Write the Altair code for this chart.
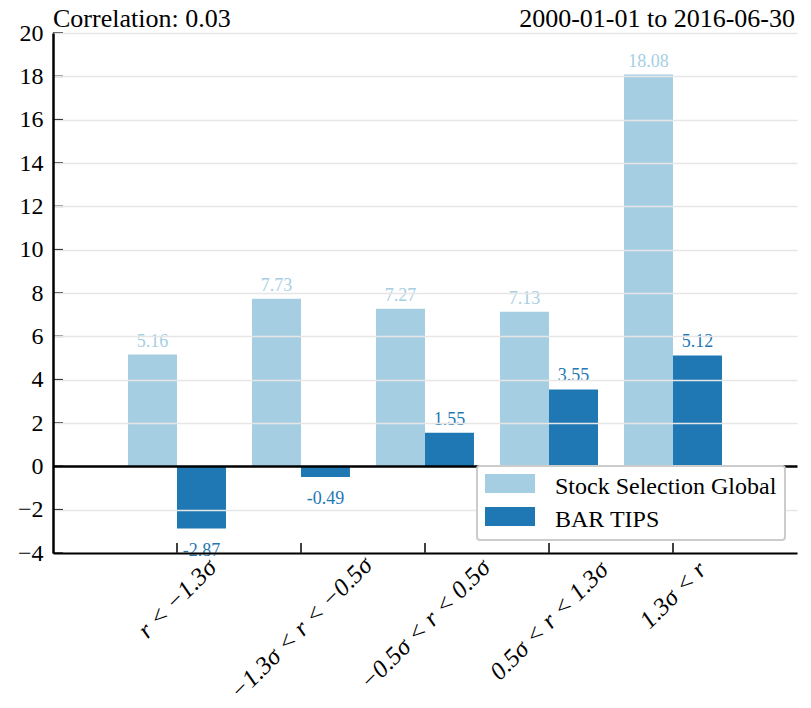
import altair as alt
import pandas as pd

# ---- data -------------------------------------------------------------
categories = [
    "r < −1.3σ",
    "−1.3σ < r < −0.5σ",
    "−0.5σ < r < 0.5σ",
    "0.5σ < r < 1.3σ",
    "1.3σ < r",
]
series_names = ["Stock Selection Global", "BAR TIPS"]
stock_selection_global = [5.16, 7.73, 7.27, 7.13, 18.08]
bar_tips = [-2.87, -0.49, 1.55, 3.55, 5.12]
y_ticks = [-4, -2, 0, 2, 4, 6, 8, 10, 12, 14, 16, 18, 20]
colors = ["#a6cee3", "#1f78b4"]
left_title = "Correlation: 0.03"
right_title = "2000-01-01 to 2016-06-30"

# ---- layout -----------------------------------------------------------
W, H = 744, 520
FONT = "Liberation Serif"

rows = []
for name, vals in zip(series_names, [stock_selection_global, bar_tips]):
    for c, v in zip(categories, vals):
        rows.append({"cat": c, "series": name, "value": v})
df = pd.DataFrame(rows)

x_enc = alt.X(
    "cat:N",
    sort=categories,
    scale=alt.Scale(domain=categories, paddingInner=0.21, paddingOuter=0.605),
    axis=alt.Axis(title=None, labels=False, ticks=False, domainColor="black",
                  domainWidth=2, zindex=1),
)
x_off = alt.XOffset(
    "series:N", sort=series_names,
    scale=alt.Scale(domain=series_names, paddingInner=0, paddingOuter=0),
)
y_enc = alt.Y(
    "value:Q",
    scale=alt.Scale(domain=[-4, 20], nice=False, zero=False),
    axis=alt.Axis(
        values=y_ticks, title=None, grid=True,
        gridColor=alt.condition("datum.value === 0", alt.value("black"), alt.value("#e6e6e6")),
        gridWidth=alt.condition("datum.value === 0", alt.value(2.5), alt.value(1.5)),
        ticks=False, domainColor="black", domainWidth=2.5,
        labelFont=FONT, labelFontSize=24, labelColor="black", labelPadding=10,
        zindex=1,
    ),
)

legend = alt.Legend(
    title=None, orient="none", legendX=424, legendY=433, direction="vertical",
    symbolType="M-1,-1.0H3V0.52H-1Z", symbolSize=625, symbolStrokeWidth=0,
    symbolOpacity=1, labelFont=FONT, labelFontSize=24, labelColor="black",
    labelLimit=0, labelOffset=45, rowPadding=8, padding=8, fillColor="white",
    strokeColor="#cccccc", zindex=2,
)

bars = alt.Chart(df).mark_bar().encode(
    x=x_enc,
    xOffset=x_off,
    y=y_enc,
    color=alt.Color("series:N", sort=series_names,
                    scale=alt.Scale(domain=series_names, range=colors),
                    legend=legend),
)

label_color = alt.condition(
    "datum.series === 'BAR TIPS'", alt.value(colors[1]), alt.value(colors[0])
)
label_expr = "replace(format(datum.value, '.2f'), '−', '-')"

pos_labels = alt.Chart(df).transform_filter("datum.value >= 0").transform_calculate(
    lbl=label_expr
).mark_text(font=FONT, fontSize=18, baseline="alphabetic", dy=-8).encode(
    x=x_enc, xOffset=x_off, y=y_enc, text="lbl:N", color=label_color,
)
neg_labels = alt.Chart(df).transform_filter("datum.value < 0").transform_calculate(
    lbl=label_expr
).mark_text(font=FONT, fontSize=18, baseline="alphabetic", dy=27).encode(
    x=x_enc, xOffset=x_off, y=y_enc, text="lbl:N", color=label_color,
)

# inward tick marks on both axes
ytick_df = pd.DataFrame({"value": y_ticks})
y_tick_marks = alt.Chart(ytick_df).mark_rule(color="black", strokeWidth=1.5).encode(
    y=y_enc, x=alt.value(0), x2=alt.value(10)
)
cat_df = pd.DataFrame({"cat": categories})
x_tick_marks = alt.Chart(cat_df).mark_rule(color="black", strokeWidth=1.5).encode(
    x=x_enc, y=alt.value(H), y2=alt.value(H - 10)
)

# rotated category labels: centred under each tick, tops aligned just below the axis
cat_labels = alt.Chart(cat_df).transform_calculate(
    ly=f"{H} + 9 + 0.354 * (length(datum.cat) * 10.4 + 10)"
).mark_text(
    font=FONT, fontSize=25, fontStyle="italic", angle=315,
    align="center", baseline="middle", color="black",
).encode(
    x=x_enc,
    y=alt.Y("ly:Q", scale=None, axis=None),
    text="cat:N",
)

title_left = alt.Chart(pd.DataFrame({"t": [left_title]})).mark_text(
    font=FONT, fontSize=26, align="left", baseline="alphabetic", color="black"
).encode(x=alt.value(0), y=alt.value(-6), text="t:N")
title_right = alt.Chart(pd.DataFrame({"t": [right_title]})).mark_text(
    font=FONT, fontSize=26, align="right", baseline="alphabetic", color="black"
).encode(x=alt.value(W - 2), y=alt.value(-6), text="t:N")

chart = alt.layer(
    bars, pos_labels, neg_labels, y_tick_marks, x_tick_marks, cat_labels,
    title_left, title_right,
).properties(
    width=W, height=H,
    autosize=alt.AutoSizeParams(type="none"),
    padding={"left": 53, "top": 33, "right": 14, "bottom": 155},
).configure(font=FONT).configure_view(strokeWidth=0).configure_axis(
    labelFont=FONT
).configure_legend(strokeWidth=2, cornerRadius=3, labelFont=FONT)

chart.save("out.html", embed_options={"renderer": "svg", "actions": False})
